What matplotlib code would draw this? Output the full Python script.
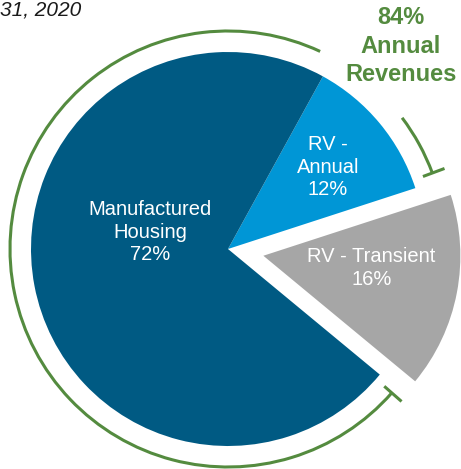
import numpy as np
import matplotlib.pyplot as plt
from matplotlib.patches import Arc

plt.rcParams['font.family'] = ['Liberation Sans', 'DejaVu Sans']

# slices, counter-clockwise from the RV Transient / RV Annual boundary
categories = ['RV -\nAnnual', 'Manufactured\nHousing', 'RV - Transient']
shares = [12, 72, 16]
colors = ['#0096D6', '#005A83', '#A6A6A6']
annual_share = shares[0] + shares[1]

W, H = 461, 469
fig = plt.figure(figsize=(W / 100, H / 100), dpi=100)
ax = fig.add_axes([0, 0, 1, 1])

cx, cy, r = 228, 220, 197
wedges, _ = ax.pie(shares, colors=colors, startangle=18, counterclock=True,
                   radius=r, center=(cx, cy), explode=[0, 0, 36],
                   wedgeprops=dict(linewidth=0))

# slice labels
label_pos = [(328, 302), (150, 237), (371.5, 201)]
for name, val, (lx, ly) in zip(categories, shares, label_pos):
    ax.text(lx, ly, f'{name}\n{val}%', color='white', fontsize=14.5,
            ha='center', va='center', linespacing=1.25)

# green bracket around annual revenue slices
green = '#548B3F'
a_start = 18 + 2.4
a_end = 18 + 360 * annual_share / 100 - 1.7
ra = 218
ax.add_patch(Arc((cx, cy), 2 * ra, 2 * ra, theta1=65, theta2=a_end,
                 color=green, lw=2.2))
ax.add_patch(Arc((cx, cy), 2 * ra, 2 * ra, theta1=a_start, theta2=37,
                 color=green, lw=2.2))
for a in (a_start, a_end):
    t = np.radians(a)
    ax.plot([cx + 208 * np.cos(t), cx + 231 * np.cos(t)],
            [cy + 208 * np.sin(t), cy + 231 * np.sin(t)],
            color=green, lw=2.2, solid_capstyle='butt')

ax.text(401, 423, f'{annual_share}%\nAnnual\nRevenues', color=green,
        fontsize=17, fontweight='bold', ha='center', va='center',
        linespacing=1.3)

ax.text(0, 454, '31, 2020', fontsize=15, style='italic', color='#1a1a1a',
        ha='left', va='baseline')

ax.set_xlim(0, W)
ax.set_ylim(0, H)
ax.set_aspect('equal')
ax.axis('off')

fig.savefig('out.png', dpi=100)
